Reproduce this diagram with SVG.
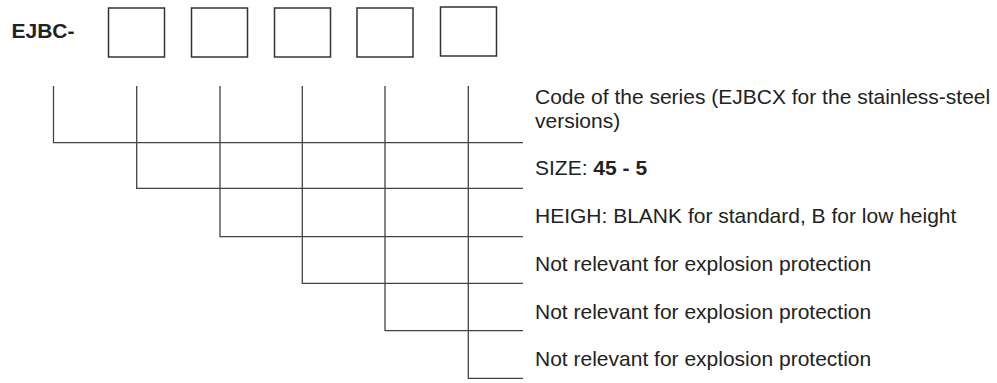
<svg xmlns="http://www.w3.org/2000/svg" width="997" height="383" viewBox="0 0 997 383">
<style>
.box{fill:#fff;stroke:#333;stroke-width:1.5}
.ln{fill:none;stroke:#444;stroke-width:1.3}
.t{font-family:"Liberation Sans",Arial,sans-serif;font-size:21px;fill:#222}
.b{font-weight:bold}
</style>
<rect width="997" height="383" fill="#fff"/>
<g id="prefix"><text class="t b" x="11.5" y="38">EJBC-</text></g>
<g id="box1"><rect class="box" x="108.5" y="8" width="56" height="49"/></g>
<g id="box2"><rect class="box" x="191.5" y="8" width="56" height="49"/></g>
<g id="box3"><rect class="box" x="274.5" y="8" width="56" height="49"/></g>
<g id="box4"><rect class="box" x="357" y="8" width="56" height="49"/></g>
<g id="box5"><rect class="box" x="440.5" y="7" width="56" height="49"/></g>
<g id="connectors">
<path class="ln" d="M53.5 86V142.7H523"/>
<path class="ln" d="M136.7 86V188.3H523"/>
<path class="ln" d="M220 86V236.7H523"/>
<path class="ln" d="M302.3 86V283.3H523"/>
<path class="ln" d="M385 86V330.7H523"/>
<path class="ln" d="M468.3 86V378.3H523"/>
</g>
<g id="label1"><text class="t" x="535" y="104">Code of the series (EJBCX for the stainless-steel</text><text class="t" x="535" y="128">versions)</text></g>
<g id="label2"><text class="t" x="535" y="175">SIZE: <tspan class="b">45 - 5</tspan></text></g>
<g id="label3"><text class="t" x="535" y="223">HEIGH: BLANK for standard, B for low height</text></g>
<g id="label4"><text class="t" x="535" y="271">Not relevant for explosion protection</text></g>
<g id="label5"><text class="t" x="535" y="318.5">Not relevant for explosion protection</text></g>
<g id="label6"><text class="t" x="535" y="366">Not relevant for explosion protection</text></g>
</svg>
